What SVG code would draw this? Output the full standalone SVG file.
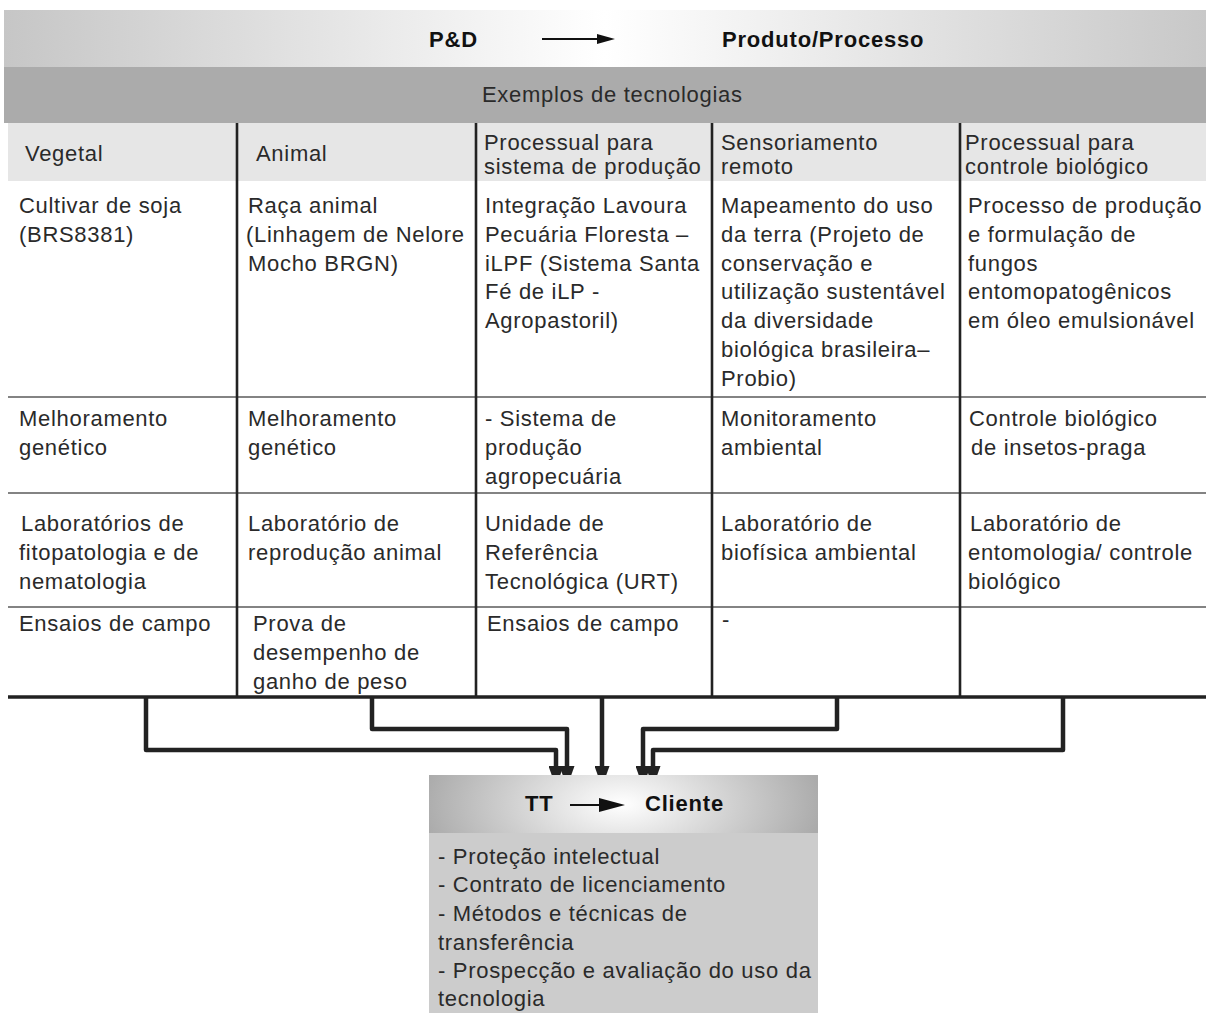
<svg xmlns="http://www.w3.org/2000/svg" width="1206" height="1013" viewBox="0 0 1206 1013">
<defs>
<style>
.t{font-family:"Liberation Sans",Arial,sans-serif;font-size:22px;letter-spacing:0.7px;fill:#2a2a2a}
.b{font-family:"Liberation Sans",Arial,sans-serif;font-size:22px;font-weight:bold;letter-spacing:0.8px;fill:#111}
.col{stroke:#222;stroke-width:2.6;fill:none}
.row{stroke:#5a5a5a;stroke-width:1.5;fill:none}
.con{stroke:#222;stroke-width:4.5;fill:none;stroke-linejoin:round}
</style>
<linearGradient id="gTop" x1="0" y1="0" x2="1" y2="0">
<stop offset="0" stop-color="#c6c6c6"/>
<stop offset="0.5" stop-color="#ffffff"/>
<stop offset="1" stop-color="#c8c8c8"/>
</linearGradient>
<radialGradient id="gTT" gradientUnits="userSpaceOnUse" cx="622" cy="804" r="200" gradientTransform="translate(622 804) scale(1 0.5) translate(-622 -804)">
<stop offset="0" stop-color="#ffffff"/>
<stop offset="1" stop-color="#ababab"/>
</radialGradient>
<marker id="ah" viewBox="0 0 21 15" refX="0" refY="7.5" markerWidth="21" markerHeight="15" markerUnits="userSpaceOnUse" orient="auto">
<path d="M0,0 L21,7.5 L0,15 z" fill="#222"/>
</marker>
</defs>
<rect width="1206" height="1013" fill="#ffffff"/>

<g id="titulo">
<rect x="4" y="10" width="1202" height="57" fill="url(#gTop)"/>
<text class="b" x="429" y="47">P&amp;D</text>
<line x1="542" y1="39" x2="600" y2="39" stroke="#111" stroke-width="2"/>
<polygon points="597,34 615,39 597,44" fill="#111"/>
<text class="b" x="722" y="47">Produto/Processo</text>
</g>

<g id="exemplos">
<rect x="4" y="67" width="1202" height="56" fill="#ababab"/>
<text class="t" x="482" y="102">Exemplos de tecnologias</text>
</g>

<g id="tabela">
<rect x="8" y="123" width="1198" height="58" fill="#e6e6e6"/>
<line class="row" x1="8" y1="397" x2="1206" y2="397"/>
<line class="row" x1="8" y1="493" x2="1206" y2="493"/>
<line class="row" x1="8" y1="607" x2="1206" y2="607"/>
<line class="col" x1="237" y1="123" x2="237" y2="697"/>
<line class="col" x1="476" y1="123" x2="476" y2="697"/>
<line class="col" x1="712" y1="123" x2="712" y2="697"/>
<line class="col" x1="960" y1="123" x2="960" y2="697"/>
<line x1="8" y1="697" x2="1206" y2="697" stroke="#222" stroke-width="3.5"/>
</g>

<g id="cabecalho">
<text class="t" x="25" y="161">Vegetal</text>
<text class="t" x="256" y="161">Animal</text>
<text class="t" x="484" y="150">Processual para</text>
<text class="t" x="484" y="174">sistema de produção</text>
<text class="t" x="721" y="150">Sensoriamento</text>
<text class="t" x="721" y="174">remoto</text>
<text class="t" x="965" y="150">Processual para</text>
<text class="t" x="965" y="174">controle biológico</text>
</g>

<g id="vegetal">
<text class="t" x="19" y="213">Cultivar de soja</text>
<text class="t" x="19" y="242">(BRS8381)</text>
<text class="t" x="19" y="426">Melhoramento</text>
<text class="t" x="19" y="455">genético</text>
<text class="t" x="21" y="531">Laboratórios de</text>
<text class="t" x="19" y="560">fitopatologia e de</text>
<text class="t" x="19" y="589">nematologia</text>
<text class="t" x="19" y="631">Ensaios de campo</text>
</g>

<g id="animal">
<text class="t" x="248" y="213">Raça animal</text>
<text class="t" x="246" y="242">(Linhagem de Nelore</text>
<text class="t" x="248" y="271">Mocho BRGN)</text>
<text class="t" x="248" y="426">Melhoramento</text>
<text class="t" x="248" y="455">genético</text>
<text class="t" x="248" y="531">Laboratório de</text>
<text class="t" x="248" y="560">reprodução animal</text>
<text class="t" x="253" y="631">Prova de</text>
<text class="t" x="253" y="660">desempenho de</text>
<text class="t" x="253" y="689">ganho de peso</text>
</g>

<g id="processual-sistema">
<text class="t" x="485" y="213">Integração Lavoura</text>
<text class="t" x="485" y="242">Pecuária Floresta –</text>
<text class="t" x="485" y="271">iLPF (Sistema Santa</text>
<text class="t" x="485" y="299">Fé de iLP -</text>
<text class="t" x="485" y="328">Agropastoril)</text>
<text class="t" x="485" y="426">- Sistema de</text>
<text class="t" x="485" y="455">produção</text>
<text class="t" x="485" y="484">agropecuária</text>
<text class="t" x="485" y="531">Unidade de</text>
<text class="t" x="485" y="560">Referência</text>
<text class="t" x="485" y="589">Tecnológica (URT)</text>
<text class="t" x="487" y="631">Ensaios de campo</text>
</g>

<g id="sensoriamento">
<text class="t" x="721" y="213">Mapeamento do uso</text>
<text class="t" x="721" y="242">da terra (Projeto de</text>
<text class="t" x="721" y="271">conservação e</text>
<text class="t" x="721" y="299">utilização sustentável</text>
<text class="t" x="721" y="328">da diversidade</text>
<text class="t" x="721" y="357">biológica brasileira–</text>
<text class="t" x="721" y="386">Probio)</text>
<text class="t" x="721" y="426">Monitoramento</text>
<text class="t" x="721" y="455">ambiental</text>
<text class="t" x="721" y="531">Laboratório de</text>
<text class="t" x="721" y="560">biofísica ambiental</text>
<text class="t" x="722" y="627">-</text>
</g>

<g id="processual-controle">
<text class="t" x="968" y="213">Processo de produção</text>
<text class="t" x="968" y="242">e formulação de</text>
<text class="t" x="968" y="271">fungos</text>
<text class="t" x="968" y="299">entomopatogênicos</text>
<text class="t" x="968" y="328">em óleo emulsionável</text>
<text class="t" x="969" y="426">Controle biológico</text>
<text class="t" x="971" y="455">de insetos-praga</text>
<text class="t" x="970" y="531">Laboratório de</text>
<text class="t" x="968" y="560">entomologia/ controle</text>
<text class="t" x="968" y="589">biológico</text>
</g>

<g id="conectores">
<path class="con" d="M146,697 V750 H556 V766" marker-end="url(#ah)"/>
<path class="con" d="M372,697 V729 H567 V766" marker-end="url(#ah)"/>
<path class="con" d="M602,697 V766" marker-end="url(#ah)"/>
<path class="con" d="M837,697 V729 H643 V766" marker-end="url(#ah)"/>
<path class="con" d="M1063,697 V750 H653 V766" marker-end="url(#ah)"/>
</g>

<g id="tt-cliente">
<rect x="429" y="775" width="389" height="58" fill="url(#gTT)"/>
<rect x="429" y="833" width="389" height="180" fill="#cccccc"/>
<text class="b" x="525" y="811">TT</text>
<line x1="570" y1="805" x2="602" y2="805" stroke="#111" stroke-width="2"/>
<polygon points="599,798 625,805 599,812" fill="#111"/>
<text class="b" x="645" y="811">Cliente</text>
<text class="t" x="438" y="864">- Proteção intelectual</text>
<text class="t" x="438" y="892">- Contrato de licenciamento</text>
<text class="t" x="438" y="921">- Métodos e técnicas de</text>
<text class="t" x="438" y="950">transferência</text>
<text class="t" x="438" y="978">- Prospecção e avaliação do uso da</text>
<text class="t" x="438" y="1006">tecnologia</text>
</g>
</svg>
